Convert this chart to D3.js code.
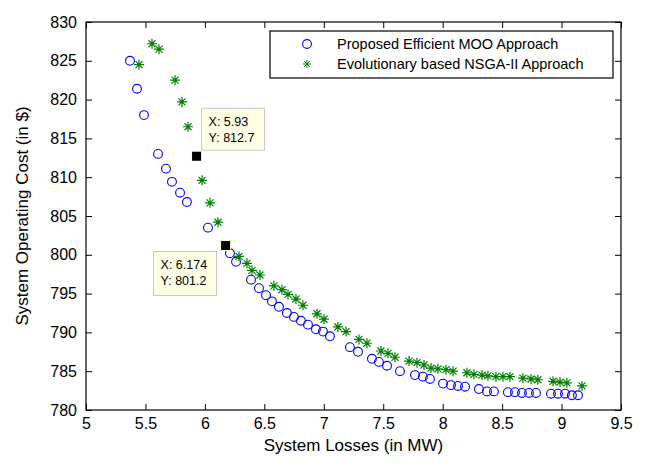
<!DOCTYPE html>
<html>
<head>
<meta charset="utf-8">
<script src="https://cdn.jsdelivr.net/npm/d3@7"></script>
<style>
  body { margin: 0; background: #fff; }
  text { font-family: "Liberation Sans", Arial, sans-serif; }
</style>
</head>
<body>
<svg id="chart"></svg>
<script>
// values
const mooX = [5.370, 5.429, 5.488, 5.606, 5.673, 5.723, 5.791, 5.849, 6.026, 6.211,
  6.262, 6.388, 6.455, 6.514, 6.564, 6.623, 6.690, 6.749, 6.808, 6.867,
  6.934, 6.993, 7.052, 7.220, 7.288, 7.405, 7.464, 7.532, 7.641, 7.767,
  7.834, 7.893, 8.003, 8.070, 8.129, 8.188, 8.305, 8.373, 8.431, 8.549,
  8.608, 8.667, 8.726, 8.785, 8.911, 8.970, 9.029, 9.087, 9.138];
const mooY = [825.0, 821.4, 818.0, 813.0, 811.1, 809.4, 808.0, 806.8, 803.5, 800.2,
  799.1, 796.8, 795.7, 794.8, 794.0, 793.3, 792.5, 792.0, 791.5, 791.0,
  790.4, 790.1, 789.5, 788.1, 787.5, 786.6, 786.2, 785.7, 785.0, 784.5,
  784.3, 784.0, 783.4, 783.2, 783.1, 783.0, 782.7, 782.4, 782.4, 782.3,
  782.3, 782.2, 782.2, 782.2, 782.1, 782.1, 782.1, 781.9, 781.9];

const nsgaX = [5.446, 5.555, 5.614, 5.749, 5.807, 5.858, 5.930, 5.976, 6.043, 6.110,
  6.174, 6.287, 6.354, 6.396, 6.463, 6.581, 6.648, 6.699, 6.766, 6.825,
  6.943, 7.002, 7.119, 7.187, 7.296, 7.363, 7.481, 7.540, 7.599, 7.717,
  7.784, 7.843, 7.902, 7.960, 8.028, 8.087, 8.204, 8.263, 8.331, 8.381,
  8.448, 8.507, 8.566, 8.675, 8.743, 8.801, 8.928, 8.987, 9.045, 9.172];
const nsgaY = [824.5, 827.2, 826.5, 822.5, 819.7, 816.5, 812.7, 809.6, 806.7, 804.2,
  801.2, 799.8, 798.9, 798.0, 797.4, 796.0, 795.5, 794.9, 794.3, 793.5,
  792.4, 791.7, 790.7, 790.1, 789.1, 788.6, 787.6, 787.3, 786.8, 786.3,
  786.1, 785.8, 785.4, 785.3, 785.2, 785.0, 784.8, 784.6, 784.5, 784.4,
  784.3, 784.3, 784.3, 784.1, 784.0, 783.9, 783.7, 783.6, 783.5, 783.1];

const xTicks = [5, 5.5, 6, 6.5, 7, 7.5, 8, 8.5, 9, 9.5];
const yTicks = [780, 785, 790, 795, 800, 805, 810, 815, 820, 825, 830];
const seriesNames = ["Proposed Efficient MOO Approach", "Evolutionary based NSGA-II Approach"];
const datatips = [{ x: 5.93, y: 812.7, label: ["X: 5.93", "Y: 812.7"] },
                  { x: 6.174, y: 801.2, label: ["X: 6.174", "Y: 801.2"] }];

const width = 646, height = 463;
const margin = { top: 22, right: 25, bottom: 53, left: 86 };
const svg = d3.select("#chart").attr("width", width).attr("height", height);

const x = d3.scaleLinear().domain([5, 9.5]).range([margin.left, width - margin.right]);
const y = d3.scaleLinear().domain([780, 830]).range([height - margin.bottom, margin.top]);

const moo = mooX.map((v, i) => ({ x: v, y: mooY[i] }));
const nsga = nsgaX.map((v, i) => ({ x: v, y: nsgaY[i] }));

const blue = "#0000ff", green = "#008000";
const star = "M0,-5V5M-5,0H5M-3.5,-3.5L3.5,3.5M-3.5,3.5L3.5,-3.5";

// axes, ticks inward on all four sides
const tickLen = 6;
svg.append("g")
  .attr("transform", `translate(0,${y(780)})`)
  .call(d3.axisBottom(x).tickValues(xTicks).tickSizeInner(-tickLen).tickSizeOuter(0).tickPadding(8).tickFormat(d3.format("")))
  .call(g => g.select(".domain").remove());
svg.append("g")
  .attr("transform", `translate(0,${y(830)})`)
  .call(d3.axisTop(x).tickValues(xTicks).tickSizeInner(-tickLen).tickSizeOuter(0).tickFormat(""))
  .call(g => g.select(".domain").remove());
svg.append("g")
  .attr("transform", `translate(${x(5)},0)`)
  .call(d3.axisLeft(y).tickValues(yTicks).tickSizeInner(-tickLen).tickSizeOuter(0).tickPadding(9))
  .call(g => g.select(".domain").remove());
svg.append("g")
  .attr("transform", `translate(${x(9.5)},0)`)
  .call(d3.axisRight(y).tickValues(yTicks).tickSizeInner(-tickLen).tickSizeOuter(0).tickFormat(""))
  .call(g => g.select(".domain").remove());

svg.selectAll(".tick text").attr("font-size", 16).attr("fill", "#000")
  .style("font-family", "'Liberation Sans', Arial, sans-serif");
svg.selectAll(".tick line").attr("stroke", "#000");

svg.append("rect")
  .attr("x", x(5)).attr("y", y(830))
  .attr("width", x(9.5) - x(5)).attr("height", y(780) - y(830))
  .attr("fill", "none").attr("stroke", "#000").attr("stroke-width", 1.2);

// series
svg.append("g").selectAll("circle")
  .data(moo)
  .join("circle")
  .attr("cx", d => x(d.x))
  .attr("cy", d => y(d.y))
  .attr("r", 4.4)
  .attr("fill", "none")
  .attr("stroke", blue)
  .attr("stroke-width", 1.1);

svg.append("g").selectAll("path")
  .data(nsga)
  .join("path")
  .attr("d", star)
  .attr("transform", d => `translate(${x(d.x)},${y(d.y)})`)
  .attr("fill", "none")
  .attr("stroke", green)
  .attr("stroke-width", 1.2);

// data tips
const tipBox = [{ dx: 5, dy: -48, w: 63, h: 42 }, { dx: -72, dy: 6, w: 63, h: 44 }];
datatips.forEach((t, i) => {
  const px = x(t.x), py = y(t.y), b = tipBox[i];
  const g = svg.append("g");
  g.append("rect")
    .attr("x", px + b.dx).attr("y", py + b.dy)
    .attr("width", b.w).attr("height", b.h)
    .attr("fill", "#ffffe6").attr("stroke", "#c8c8c0").attr("stroke-width", 1);
  t.label.forEach((s, j) => {
    g.append("text")
      .attr("x", px + b.dx + 7)
      .attr("y", py + b.dy + 18 + j * 16)
      .attr("font-size", 12.5)
      .text(s);
  });
  g.append("rect")
    .attr("x", px - 5.5).attr("y", py - 5.5).attr("width", 11).attr("height", 11)
    .attr("fill", "#ffffc8");
  g.append("rect")
    .attr("x", px - 4.5).attr("y", py - 4.5).attr("width", 9).attr("height", 9)
    .attr("fill", "#000");
});

// legend
const legend = svg.append("g");
legend.append("rect")
  .attr("x", 270).attr("y", 31).attr("width", 343).attr("height", 47)
  .attr("fill", "#fff").attr("stroke", "#000").attr("stroke-width", 1.2);
seriesNames.forEach((name, i) => {
  const ly = 44 + i * 20;
  if (i === 0) {
    legend.append("circle").attr("cx", 307).attr("cy", ly).attr("r", 4.4)
      .attr("fill", "none").attr("stroke", blue).attr("stroke-width", 1.1);
  } else {
    legend.append("path").attr("d", star).attr("transform", `translate(307,${ly}) scale(0.8)`)
      .attr("fill", "none").attr("stroke", green).attr("stroke-width", 1.2);
  }
  legend.append("text")
    .attr("x", 337).attr("y", ly + 5)
    .attr("font-size", 14.5)
    .text(name);
});

// axis titles
svg.append("text")
  .attr("x", (x(5) + x(9.5)) / 2).attr("y", 451)
  .attr("text-anchor", "middle").attr("font-size", 17)
  .text("System Losses (in MW)");
svg.append("text")
  .attr("transform", `translate(28,${(y(780) + y(830)) / 2}) rotate(-90)`)
  .attr("text-anchor", "middle").attr("font-size", 17)
  .text("System Operating Cost (in $)");
</script>
</body>
</html>
